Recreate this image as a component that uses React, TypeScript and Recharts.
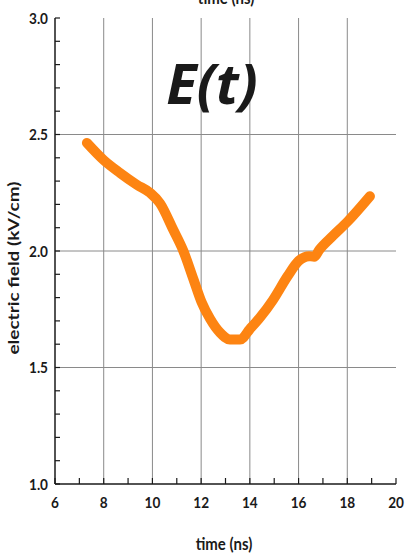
import { LineChart, Line, XAxis, YAxis, ReferenceLine } from "recharts";

// sampled electric field trace, E(t)
const timeNs = [7.31, 8.0, 8.67, 9.35, 9.9, 10.31, 10.86, 11.27, 11.68, 12.02, 12.36, 12.77, 13.18, 13.6, 14.0, 14.42, 14.95, 15.55, 16.0, 16.43, 16.64, 16.85, 17.4, 18.0, 18.93];
const fieldKvCm = [2.464, 2.39, 2.335, 2.285, 2.25, 2.205, 2.09, 2.0, 1.88, 1.78, 1.71, 1.65, 1.62, 1.62, 1.665, 1.715, 1.79, 1.892, 1.957, 1.978, 1.975, 2.005, 2.064, 2.125, 2.235];

const xTicks = [6, 7, 8, 9, 10, 11, 12, 13, 14, 15, 16, 17, 18, 19, 20];
const yTicks = [1.0, 1.1, 1.2, 1.3, 1.4, 1.5, 1.6, 1.7, 1.8, 1.9, 2.0, 2.1, 2.2, 2.3, 2.4, 2.5, 2.6, 2.7, 2.8, 2.9, 3.0];
const xGrid = [8, 10, 12, 14, 16, 18];
const yGrid = [1.5, 2.0, 2.5];

const data = timeNs.map((t, i) => ({ t, e: fieldKvCm[i] }));

const FONT = "Lato, 'Open Sans', sans-serif";
const INK = "#1a1a1a";
const TICK = 6;

const isMajorY = (v: number) => Math.abs(v * 2 - Math.round(v * 2)) < 1e-6;

// condensed bold label, anchored at (x, y)
function TickText({ x, y, anchor, children }: any) {
  return (
    <text
      transform={`translate(${x},${y}) scale(0.85,1)`}
      textAnchor={anchor}
      fontFamily={FONT}
      fontWeight={700}
      fontSize={16}
      fill={INK}
    >
      {children}
    </text>
  );
}

function BottomTick({ x, y, payload }: any) {
  const v = payload.value;
  return (
    <g>
      <line x1={x} x2={x} y1={y} y2={y - TICK} stroke={INK} strokeWidth={1.2} />
      {v % 2 === 0 && (
        <TickText x={x} y={y + 24} anchor="middle">
          {v}
        </TickText>
      )}
    </g>
  );
}

function TopTick({ x, y }: any) {
  return <line x1={x} x2={x} y1={y} y2={y + TICK} stroke={INK} strokeWidth={1.2} />;
}

function LeftTick({ x, y, payload }: any) {
  const v = payload.value;
  return (
    <g>
      <line x1={x} x2={x + 5} y1={y} y2={y} stroke={INK} strokeWidth={1.2} />
      {isMajorY(v) && (
        <TickText x={x - 7} y={y + 5.5} anchor="end">
          {v.toFixed(1)}
        </TickText>
      )}
    </g>
  );
}

function RightTick({ x, y }: any) {
  return <line x1={x} x2={x - 5} y1={y} y2={y} stroke={INK} strokeWidth={1.2} />;
}

const textStyle = {
  position: "absolute" as const,
  fontFamily: FONT,
  fontWeight: 700,
  color: INK,
  whiteSpace: "nowrap" as const,
};

export default function App() {
  return (
    <div style={{ position: "relative", width: 405, height: 553, background: "#fff", overflow: "hidden" }}>
      <style>{"body{margin:0}"}</style>
      <LineChart width={405} height={553} data={data} margin={{ top: 18, right: 9, left: 0, bottom: 0 }}>
        <XAxis
          dataKey="t"
          type="number"
          domain={[6, 20]}
          ticks={xTicks}
          interval={0}
          height={69}
          tickSize={0}
          tickMargin={0}
          tickLine={false}
          tick={<BottomTick />}
          axisLine={{ stroke: INK, strokeWidth: 1.5 }}
        />
        <XAxis
          xAxisId="top"
          orientation="top"
          dataKey="t"
          type="number"
          domain={[6, 20]}
          ticks={xTicks}
          interval={0}
          height={0}
          tickSize={0}
          tickMargin={0}
          tickLine={false}
          tick={<TopTick />}
          axisLine={{ stroke: INK, strokeWidth: 1.5 }}
        />
        <YAxis
          type="number"
          domain={[1, 3]}
          ticks={yTicks}
          interval={0}
          width={55}
          tickSize={0}
          tickMargin={0}
          tickLine={false}
          tick={<LeftTick />}
          axisLine={{ stroke: INK, strokeWidth: 1.5 }}
        />
        <YAxis
          yAxisId="right"
          orientation="right"
          type="number"
          domain={[1, 3]}
          ticks={yTicks}
          interval={0}
          width={0}
          tickSize={0}
          tickMargin={0}
          tickLine={false}
          tick={<RightTick />}
          axisLine={{ stroke: INK, strokeWidth: 1.5 }}
        />
        {xGrid.map((v) => (
          <ReferenceLine key={"x" + v} x={v} stroke="#8a8a8a" strokeWidth={1} />
        ))}
        {yGrid.map((v) => (
          <ReferenceLine key={"y" + v} y={v} stroke="#8a8a8a" strokeWidth={1} />
        ))}
        <Line
          type="monotone"
          dataKey="e"
          stroke="#fd8412"
          strokeWidth={10}
          strokeLinecap="round"
          strokeLinejoin="round"
          dot={false}
          isAnimationActive={false}
        />
      </LineChart>

      <div style={{ ...textStyle, left: 226, top: -11, fontSize: 17, lineHeight: "17px", transform: "translateX(-50%) scaleX(0.88)" }}>
        time (ns)
      </div>
      <div style={{ ...textStyle, left: 224, top: 535, fontSize: 17, lineHeight: "17px", transform: "translateX(-50%) scaleX(0.88)" }}>
        time (ns)
      </div>
      <div style={{ ...textStyle, left: 12.5, top: 268, fontSize: 19, lineHeight: "19px", transform: "translate(-50%, -50%) rotate(-90deg) scaleY(0.75)" }}>
        electric field (kV/cm)
      </div>
      <div style={{ ...textStyle, left: 112, width: 200, top: 54, fontSize: 56, lineHeight: 1, textAlign: "center", fontStyle: "italic", fontFamily: "'Open Sans', sans-serif" }}>
        E(t)
      </div>
    </div>
  );
}
